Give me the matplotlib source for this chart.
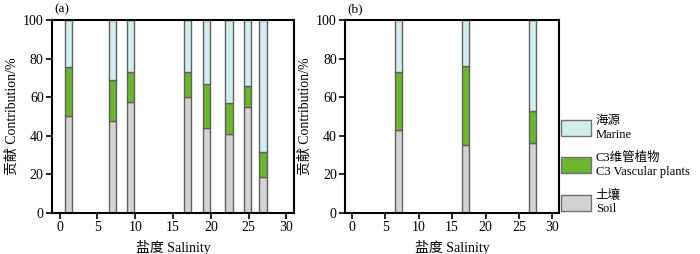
import matplotlib.pyplot as plt
from matplotlib.patches import Patch

plt.rcParams['font.family'] = ['Liberation Serif', 'Noto Sans CJK SC']
plt.rcParams['font.size'] = 10

# panel (a)
sal_a = [1.2, 7.0, 9.4, 16.9, 19.4, 22.4, 24.8, 26.9]
soil_a = [50.4, 47.5, 57.5, 60.1, 43.9, 40.8, 54.9, 18.8]
c3_a = [25.1, 21.2, 15.4, 13.0, 22.9, 16.0, 10.9, 12.8]
# panel (b)
sal_b = [7.0, 17.0, 27.0]
soil_b = [43.1, 35.0, 36.4]
c3_b = [30.1, 41.3, 16.7]

names = ['海源\nMarine', 'C3维管植物\nC3 Vascular plants', '土壤\nSoil']
colors = ['#d3eded', '#6cb52f', '#d4d3d2']
edge = '#606060'
width = 0.95

fig = plt.figure(figsize=(7, 2.54), dpi=100)
ax_a = fig.add_axes([0.0743, 0.1614, 0.3457, 0.76])
ax_b = fig.add_axes([0.493, 0.1614, 0.3057, 0.76])


def stack(ax, x, soil, c3):
    marine = [100 - s - c for s, c in zip(soil, c3)]
    ax.bar(x, soil, width, color=colors[2], edgecolor=edge, linewidth=1)
    ax.bar(x, c3, width, bottom=soil, color=colors[1], edgecolor=edge, linewidth=1)
    top = [s + c for s, c in zip(soil, c3)]
    ax.bar(x, marine, width, bottom=top, color=colors[0], edgecolor=edge, linewidth=1)
    ax.set_xlim(-1, 31)
    ax.set_ylim(0, 100)
    ax.set_xticks(range(0, 31, 5))
    ax.set_yticks(range(0, 101, 20))
    for s in ax.spines.values():
        s.set_linewidth(1.5)
    ax.tick_params(direction='out', length=4, width=1.2, labelsize=10, pad=2)
    ax.set_xlabel('盐度 Salinity', labelpad=4, fontsize=10)
    ax.set_ylabel('贡献 Contribution/%', labelpad=3, fontsize=10)


stack(ax_a, sal_a, soil_a, c3_a)
stack(ax_b, sal_b, soil_b, c3_b)
ax_a.text(0.01, 1.04, '(a)', transform=ax_a.transAxes, fontsize=9.5)
ax_b.text(0.01, 1.04, '(b)', transform=ax_b.transAxes, fontsize=9.5)

handles = [Patch(facecolor=c, edgecolor='#707070', linewidth=1) for c in colors]
fig.legend(handles, names, loc='upper left', bbox_to_anchor=(0.801, 0.547),
           frameon=False, handlelength=2.4, handleheight=1.6, handletextpad=0.4,
           labelspacing=0.9, fontsize=9, borderaxespad=0, borderpad=0)

fig.savefig('out.png', dpi=100)
